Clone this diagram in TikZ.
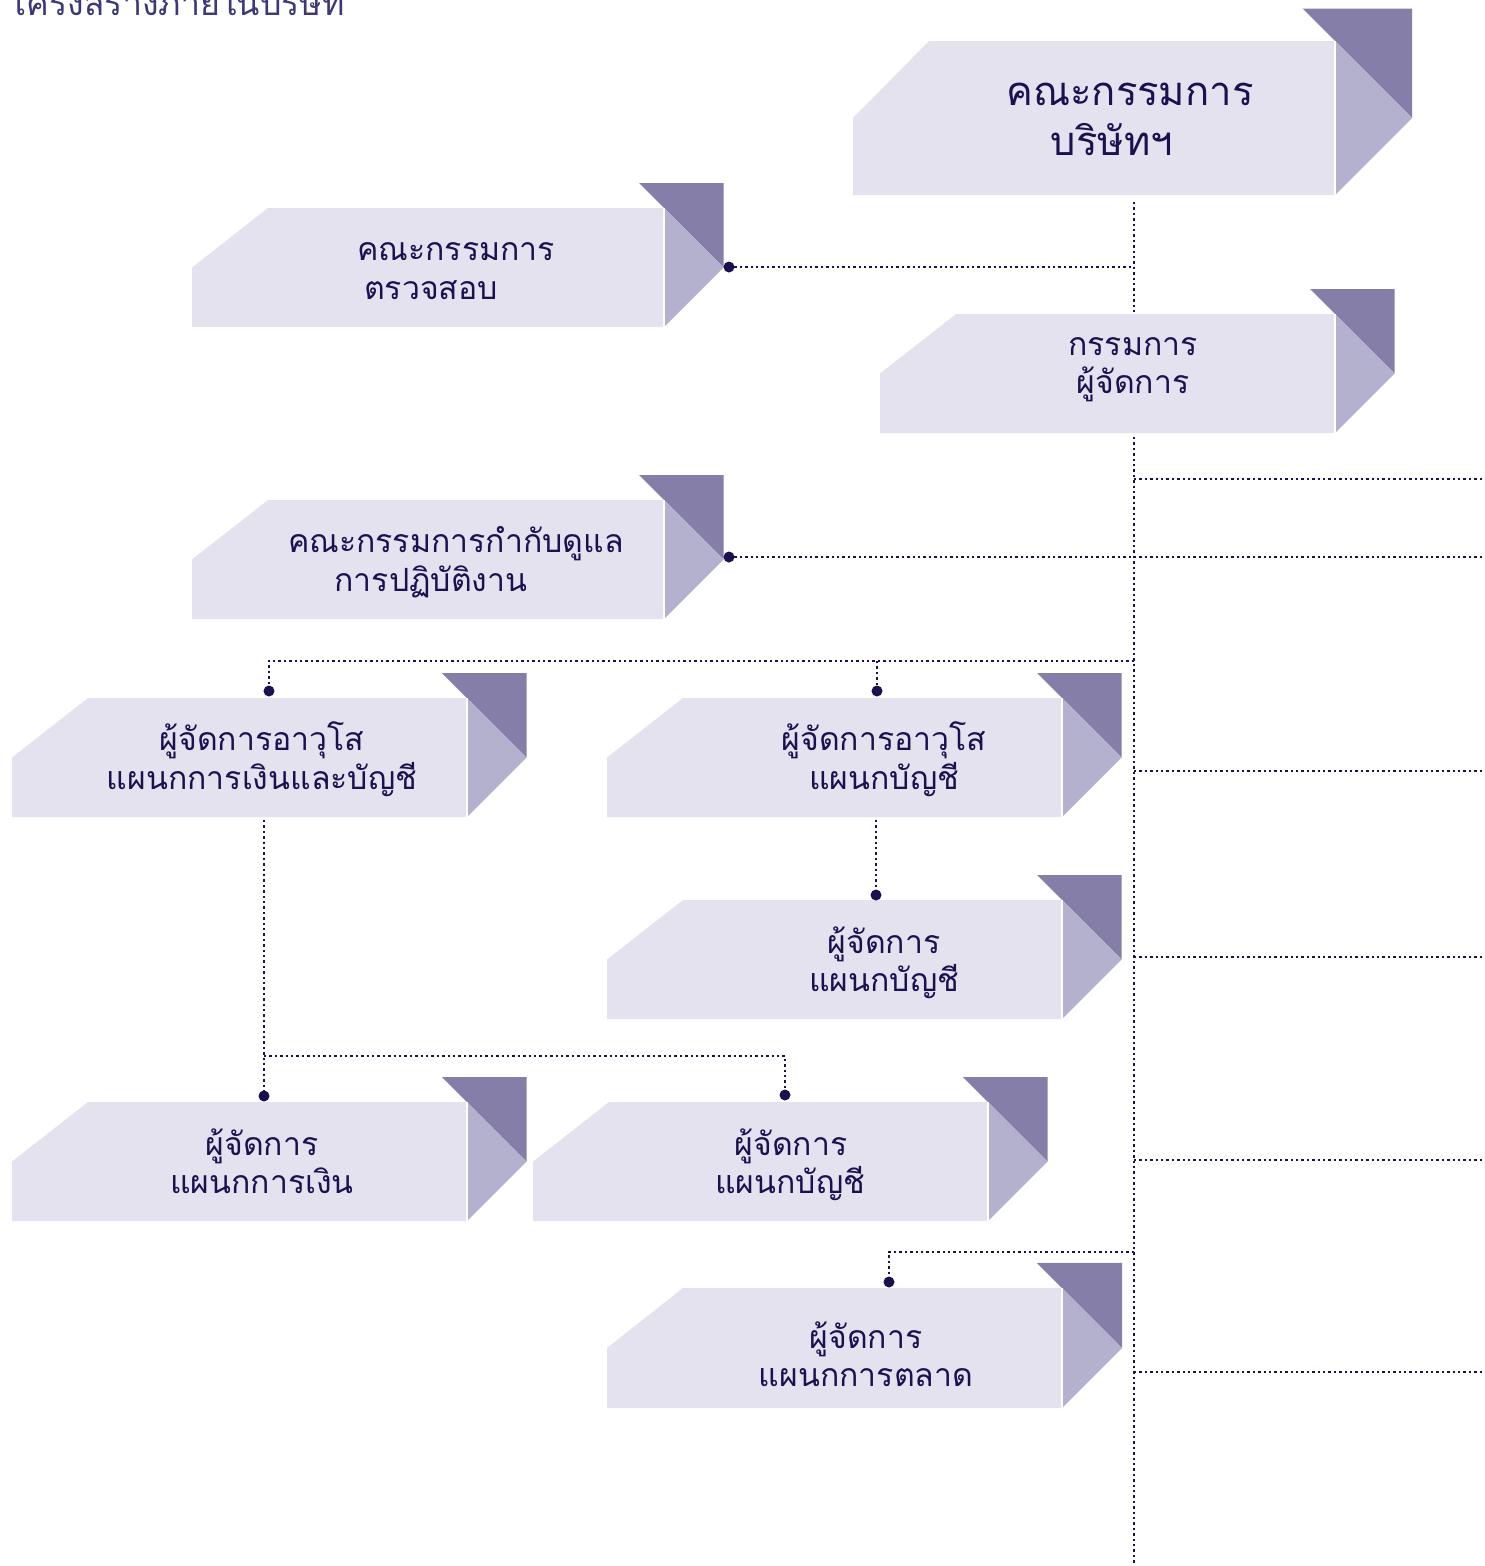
\documentclass[tikz,border=0pt]{standalone}
\usepackage{fontspec}
\newfontfamily\thai[Script=Thai]{Loma}
\definecolor{boxlight}{HTML}{E4E2EE}
\definecolor{boxmid}{HTML}{B4B1CF}
\definecolor{boxdark}{HTML}{857EA8}
\definecolor{navy}{HTML}{1B1151}
\definecolor{titlecol}{HTML}{3D3878}
\tikzset{
  conn/.style={draw=navy, line width=2.4pt, dash pattern=on 2.4pt off 3.0pt},
  jdot/.style={circle, fill=navy, inner sep=0pt, minimum size=11pt},
  lbl/.style={text=navy, inner sep=0pt, anchor=base, font=\thai\fontsize{32}{38}\selectfont},
  lblbig/.style={lbl, font=\thai\fontsize{40}{48}\selectfont},
}
\newcommand\ribbonbox[5]{%
  \pgfmathsetmacro\rbM{(#4+#5)/2}%
  \pgfmathsetmacro\rbD{(#5-#4)/2}%
  \pgfmathsetmacro\rbE{0.21*(#5-#4)}%
  \fill[boxlight] (#2,\rbM) -- (#2+76,#4) -- (#3,#4) -- (#3,#5) -- (#2,#5) -- cycle;
  \fill[boxdark] (#3-\rbE,#4-\rbE) -- (#3+\rbD,#4-\rbE) -- (#3+\rbD,\rbM) -- cycle;
  \fill[boxmid] (#3,#4) -- (#3+\rbD,\rbM) -- (#3,#5) -- cycle;
  \draw[white, line width=1.2pt] (#3,#4) -- (#3,#5);
  \coordinate (#1) at ({(#2+#3)/2},\rbM);
}
\begin{document}
\begin{tikzpicture}[x=1pt,y=-1pt]
\useasboundingbox (0,0) rectangle (1485,1566);
\clip (0,0) rectangle (1485,1566);

% title (cut off at the top, as in the reference)
\node[anchor=base west, inner sep=0pt, text=titlecol, font=\thai\fontsize{34}{40}\selectfont] (title) at (8,15) {โครงสร้างภายในบริษัท};

% boxes
\ribbonbox{board}{853}{1335}{41}{195}
\ribbonbox{audit}{192}{664}{208}{327}
\ribbonbox{md}{880}{1335}{314}{433}
\ribbonbox{gov}{192}{664}{500}{619}
\ribbonbox{sfa}{12}{467}{698}{817}
\ribbonbox{sacc}{607}{1062}{698}{817}
\ribbonbox{macc}{607}{1062}{900}{1019}
\ribbonbox{mfin}{12}{467}{1102}{1221}
\ribbonbox{macc2}{533}{988}{1102}{1221}
\ribbonbox{mmkt}{607}{1062}{1288}{1408}

% labels
\node[lblbig] (board-l1) at (1130,105) {คณะกรรมการ};
\node[lblbig] (board-l2) at (1112,155) {บริษัทฯ};
\node[lbl] (audit-l1) at (456,260) {คณะกรรมการ};
\node[lbl] (audit-l2) at (431,299) {ตรวจสอบ};
\node[lbl] (md-l1) at (1133,355) {กรรมการ};
\node[lbl] (md-l2) at (1133,393) {ผู้จัดการ};
\node[lbl] (gov-l1) at (456,552) {คณะกรรมการกำกับดูแล};
\node[lbl] (gov-l2) at (431,591) {การปฏิบัติงาน};
\node[lbl] (sfa-l1) at (262,750) {ผู้จัดการอาวุโส};
\node[lbl] (sfa-l2) at (262,789) {แผนกการเงินและบัญชี};
\node[lbl] (sacc-l1) at (884,750) {ผู้จัดการอาวุโส};
\node[lbl] (sacc-l2) at (884,789) {แผนกบัญชี};
\node[lbl] (macc-l1) at (884,953) {ผู้จัดการ};
\node[lbl] (macc-l2) at (884,991) {แผนกบัญชี};
\node[lbl] (mfin-l1) at (262,1155) {ผู้จัดการ};
\node[lbl] (mfin-l2) at (262,1193) {แผนกการเงิน};
\node[lbl] (macc2-l1) at (791,1155) {ผู้จัดการ};
\node[lbl] (macc2-l2) at (790,1193) {แผนกบัญชี};
\node[lbl] (mmkt-l1) at (866,1348) {ผู้จัดการ};
\node[lbl] (mmkt-l2) at (866,1386) {แผนกการตลาด};

% junction points
\coordinate (board-bot) at (1134,202);
\coordinate (md-top) at (1134,312);
\coordinate (md-bot) at (1134,437);
\coordinate (trunk-end) at (1134,1566);
\coordinate (j267) at (1134,267);
\coordinate (j479) at (1134,479);
\coordinate (r479) at (1485,479);
\coordinate (r557) at (1485,557);
\coordinate (j661) at (1134,661);
\coordinate (a661) at (269,661);
\coordinate (b661) at (877,661);
\coordinate (j771) at (1134,771);
\coordinate (r771) at (1485,771);
\coordinate (sacc-bot) at (876,820);
\coordinate (j957) at (1134,957);
\coordinate (r957) at (1485,957);
\coordinate (sfa-bot) at (264,820);
\coordinate (a1056) at (264,1056);
\coordinate (b1056) at (785,1056);
\coordinate (j1160) at (1134,1160);
\coordinate (r1160) at (1485,1160);
\coordinate (j1252) at (1134,1252);
\coordinate (a1252) at (889,1252);
\coordinate (j1372) at (1134,1372);
\coordinate (r1372) at (1485,1372);

% dots
\node[jdot] (audit-dot) at (729,267) {};
\node[jdot] (gov-dot) at (729,557) {};
\node[jdot] (sfa-dot) at (269,691) {};
\node[jdot] (sacc-dot) at (877,691) {};
\node[jdot] (macc-dot) at (876,895) {};
\node[jdot] (mfin-dot) at (264,1096) {};
\node[jdot] (macc2-dot) at (785,1095) {};
\node[jdot] (mmkt-dot) at (889,1282) {};

% connectors
\draw[conn] (board-bot) -- (md-top);
\draw[conn] (md-bot) -- (trunk-end);
\draw[conn] (audit-dot.center) -- (j267);
\draw[conn] (j479) -- (r479);
\draw[conn] (gov-dot.center) -- (r557);
\draw[conn] (j661) -- (a661) -- (sfa-dot.center);
\draw[conn] (b661) -- (sacc-dot.center);
\draw[conn] (j771) -- (r771);
\draw[conn] (sacc-bot) -- (macc-dot.center);
\draw[conn] (j957) -- (r957);
\draw[conn] (sfa-bot) -- (mfin-dot.center);
\draw[conn] (a1056) -- (b1056) -- (macc2-dot.center);
\draw[conn] (j1160) -- (r1160);
\draw[conn] (j1252) -- (a1252) -- (mmkt-dot.center);
\draw[conn] (j1372) -- (r1372);
\end{tikzpicture}
\end{document}
